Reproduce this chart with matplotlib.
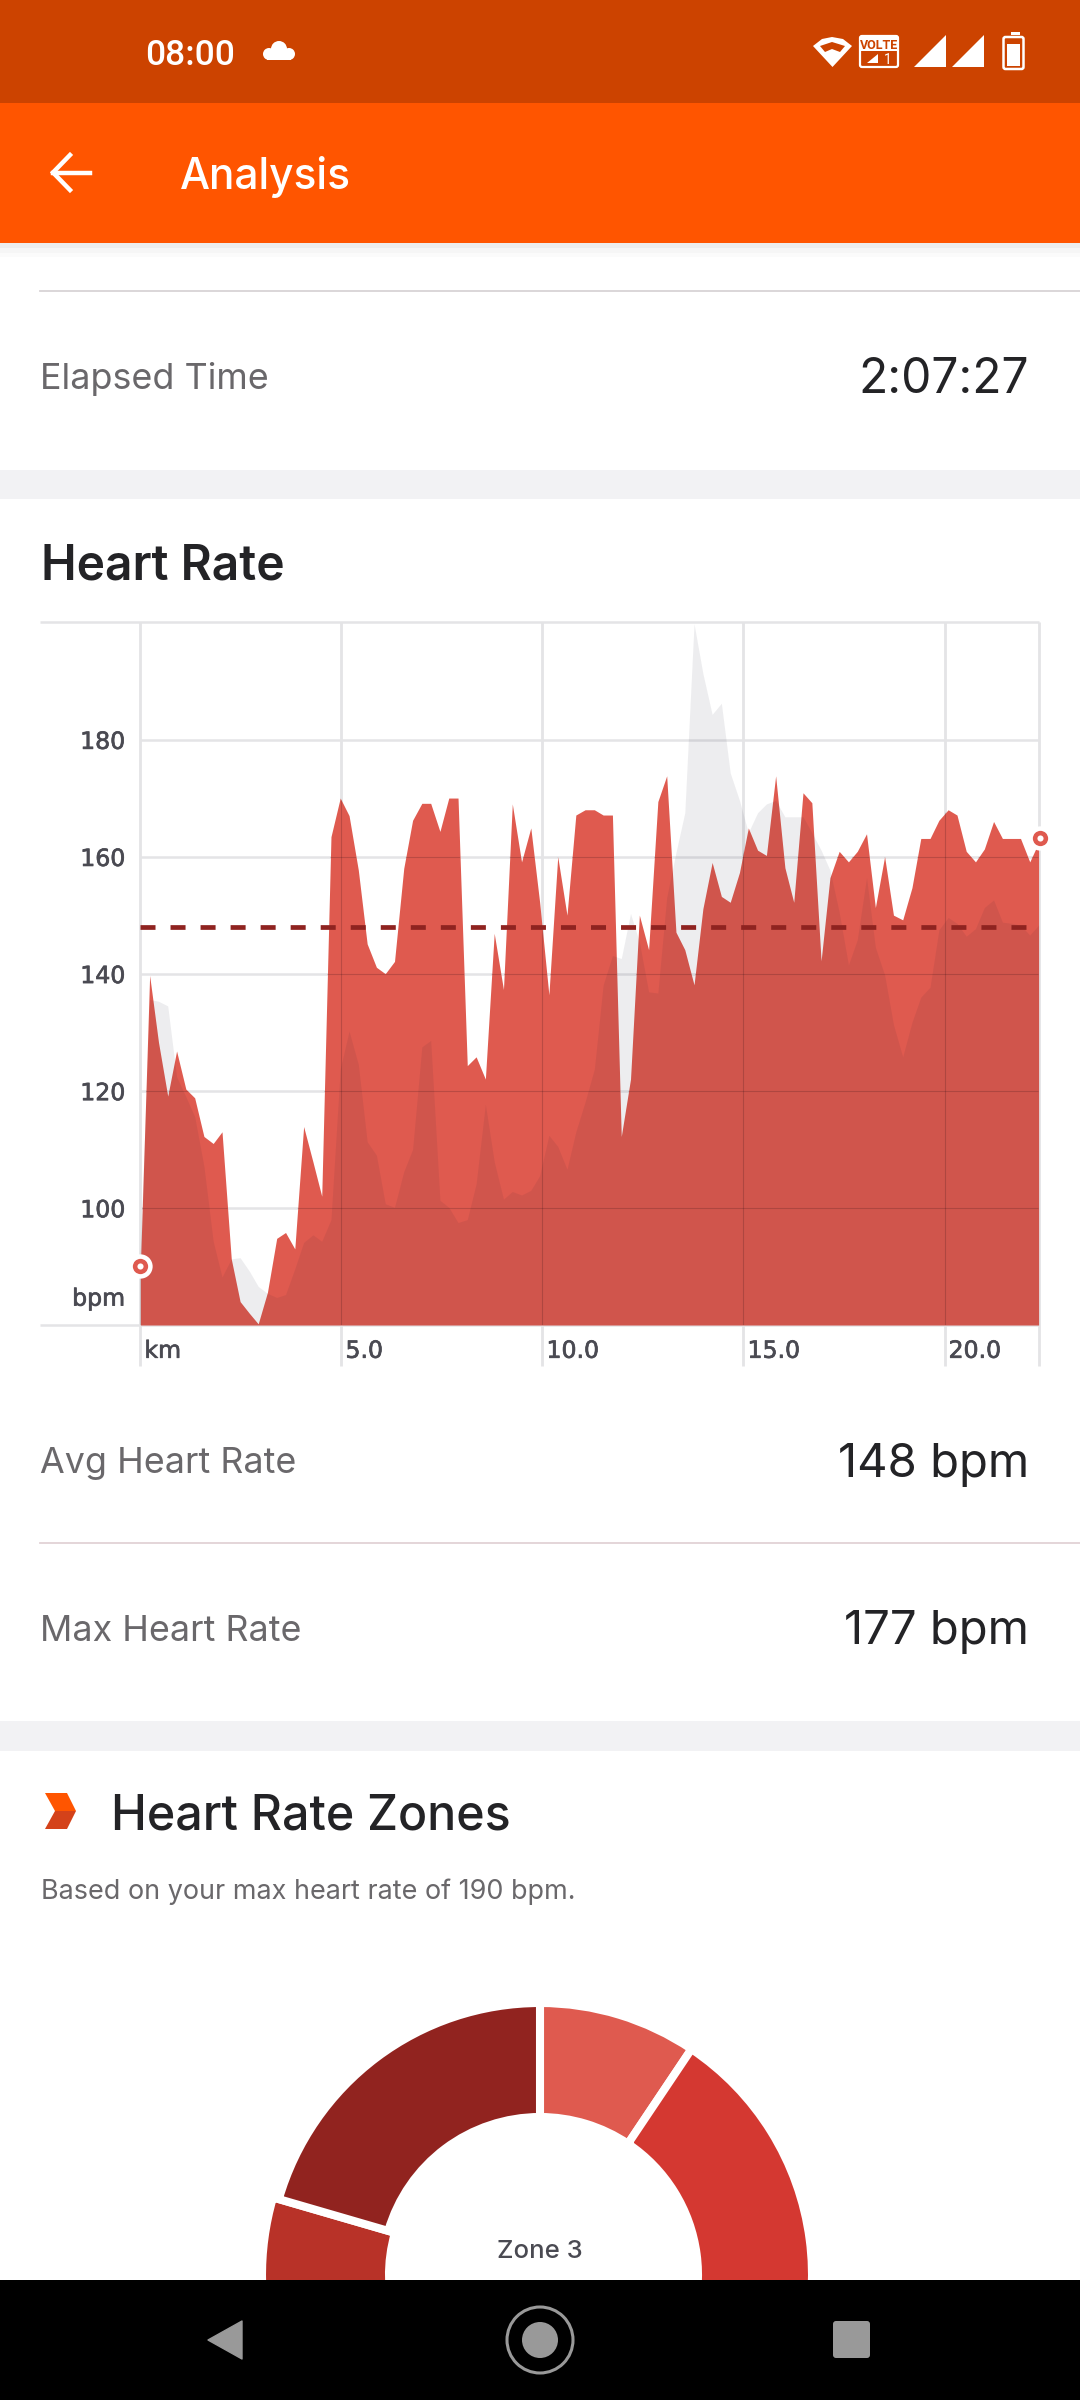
import matplotlib
matplotlib.use("Agg")
import matplotlib.pyplot as plt
import matplotlib.patheffects as pe
from matplotlib.patches import Circle, Polygon, Rectangle, FancyBboxPatch

plt.rcParams["font.family"] = ["Inter", "DejaVu Sans"]

# distance along the run, km
dist_km = [0.00, 0.23, 0.45, 0.68, 0.90, 1.13, 1.35, 1.58, 1.81, 2.03,
           2.26, 2.48, 2.71, 2.93, 3.16, 3.39, 3.61, 3.84, 4.06, 4.29,
           4.51, 4.74, 4.97, 5.19, 5.42, 5.64, 5.87, 6.09, 6.32, 6.55,
           6.77, 7.00, 7.22, 7.45, 7.67, 7.90, 8.13, 8.35, 8.58, 8.80,
           9.03, 9.25, 9.48, 9.71, 9.93, 10.16, 10.38, 10.61, 10.83, 11.06,
           11.29, 11.51, 11.74, 11.96, 12.19, 12.41, 12.64, 12.87, 13.09, 13.32,
           13.54, 13.77, 13.99, 14.22, 14.45, 14.67, 14.90, 15.12, 15.35, 15.57,
           15.80, 16.03, 16.25, 16.48, 16.70, 16.93, 17.15, 17.38, 17.61, 17.83,
           18.06, 18.28, 18.51, 18.73, 18.96, 19.19, 19.41, 19.64, 19.86, 20.09,
           20.31, 20.54, 20.77, 20.99, 21.22, 21.44, 21.67, 21.89, 22.12, 22.34]

heart_rate = [90, 139.7, 128.3, 119.1, 126.8, 120.3, 118.8, 112.2, 111, 113,
              91.3, 84, 82, 80.2, 85.6, 94.8, 95.8, 93, 113.9, 107.9,
              102, 163.4, 170, 167, 157.7, 145.1, 141.1, 140, 142.1, 158,
              166.2, 169.1, 169.1, 164.3, 170, 170, 124.3, 125.8, 122, 146.9,
              137.3, 169, 159.1, 164.9, 152.2, 136.4, 160, 150, 167.1, 168,
              168, 167.1, 167.1, 112.2, 122, 150, 144.1, 169.4, 173.8, 147.1,
              144.1, 138.1, 151.1, 159, 153.2, 152.2, 157.3, 164.9, 161.1, 160.2,
              173.8, 158.1, 152.2, 170.9, 169.2, 142.2, 156.4, 160.9, 159.1, 160.9,
              163.9, 151.3, 160, 150, 149.2, 154.7, 163.1, 163.1, 166.2, 168,
              167.1, 160.9, 159.1, 161.3, 166, 163.1, 163.1, 163.1, 159.1, 162.4]

# grey elevation shape behind the heart rate, read on the bpm scale
elevation = [93.4, 135.6, 135.3, 134.5, 122.4, 119, 115.6, 107.1, 94.3, 88.2,
             91.3, 91.5, 89.2, 86.6, 85.4, 84.7, 85.2, 89.6, 94.1, 95.4,
             94.3, 98, 123.7, 130.2, 124.5, 111.3, 109, 100.7, 100.1, 106.2,
             110, 127.5, 128.6, 101.3, 100.1, 97.5, 98, 104.1, 117.7, 107.9,
             101.5, 102.8, 102.2, 103, 105.5, 112.4, 110.5, 106.6, 113, 118.1,
             123.7, 138.1, 143.1, 142.6, 150.3, 145.4, 136.9, 136.7, 153, 160.7,
             167.5, 199.8, 191.3, 184.3, 186.2, 174.3, 169.6, 164.1, 167.5, 169,
             169.6, 166.8, 166.8, 166.8, 164.1, 161.1, 157.7, 150.5, 141.5, 145.8,
             156.4, 144.5, 139.8, 131.3, 125.8, 131.7, 136, 137.7, 147.5, 149.6,
             148.6, 146.4, 147.7, 151.3, 152.6, 148.8, 148.6, 148.3, 146.6, 148.3]

avg_hr = 148
avg_line_km = [0, 22.05]
y_ticks = [100, 120, 140, 160, 180]
x_ticks = [0, 5, 10, 15, 20]
x_tick_labels = ["km", "5.0", "10.0", "15.0", "20.0"]

# the slices below the fold are estimated, they are hidden by the nav bar
zone_share = [9.4, 27, 24, 19.1, 20.5]
zone_colors = ["#DF5A4F", "#D43831", "#C9362C", "#B83228", "#91231F"]

W, H = 1080, 2400
TEXT_DARK = "#232326"
TEXT_GREY = "#6A686B"
TICK_GREY = "#4A4A52"
GRID = "#E4E4E6"
GRID_OVER = (0.15, 0.05, 0.08, 0.2)

fig = plt.figure(figsize=(W / 100, H / 100), dpi=100, facecolor="white")

# page furniture, in pixels
ui = fig.add_axes([0, 0, 1, 1], zorder=0)
ui.set_xlim(0, W)
ui.set_ylim(H, 0)
ui.axis("off")


def box(x0, y0, x1, y1, color, z=1):
    ui.add_patch(Rectangle((x0, y0), x1 - x0, y1 - y0, fc=color, ec="none", zorder=z))


box(0, 0, W, 103, "#CC4300")
box(0, 103, W, 243, "#FF5500")
box(0, 243, W, 248, "#EDEDED")
box(0, 248, W, 253, "#F6F6F6")
box(0, 253, W, 257, "#FBFBFB")
box(0, 470, W, 499, "#F2F2F4")
box(0, 1721, W, 1751, "#F2F2F4")
ui.plot([40, W], [291, 291], color="#D8D3D6", lw=1.3, zorder=1)
ui.plot([40, W], [1543, 1543], color="#E2D2D6", lw=1.3, zorder=1)

ui.text(145, 65, "08:00", color="white", fontsize=25.5, family="Roboto", weight="medium")
for cx, cy, r in [(279, 49, 8), (269, 54, 6), (289, 54, 6)]:
    ui.add_patch(Circle((cx, cy), r, fc="white", ec="none", zorder=2))
box(267, 52, 291, 60, "white", 2)

# status icons
ui.add_patch(Polygon([(813, 46), (822, 39), (832, 37), (843, 39), (852, 46), (832.5, 67)],
                     closed=True, fc="white", ec="none", zorder=2))
ui.add_patch(Polygon([(820, 46), (832, 42), (845, 46), (840, 52), (832, 49), (825, 52)],
                     closed=True, fc="#CC4300", ec="none", zorder=3))
ui.add_patch(FancyBboxPatch((860, 36), 38, 31, boxstyle="round,pad=0,rounding_size=2",
                            fc="#CC4300", ec="white", lw=1.6, zorder=2))
box(860, 36, 898, 51, "white", 3)
ui.text(879, 49, "VOLTE", color="#CC4300", fontsize=9, weight="bold", ha="center",
        family="Roboto", zorder=4)
ui.add_patch(Polygon([(867, 63), (878, 63), (878, 54)], closed=True, fc="white", ec="none", zorder=3))
ui.text(888, 64, "1", color="white", fontsize=10, ha="center", family="Roboto", zorder=4)
for x0 in [914, 952]:
    ui.add_patch(Polygon([(x0, 67), (x0 + 32, 67), (x0 + 32, 35)], closed=True,
                         fc="white", ec="none", zorder=2))
box(1011, 32, 1020, 34.5, "white", 2)
ui.add_patch(FancyBboxPatch((1003.5, 37), 20, 32, boxstyle="round,pad=0,rounding_size=2",
                            fc="#CC4300", ec="white", lw=1.8, zorder=2))
box(1007, 44, 1020, 66, "white", 3)

# header
ui.plot([70, 53, 70], [155, 172.5, 190], color="white", lw=3.2, zorder=2, solid_joinstyle="miter")
ui.plot([53, 90], [172.5, 172.5], color="white", lw=3.2, zorder=2)
ui.text(180, 189, "Analysis", color="white", fontsize=30.5, weight="medium")

# rows
ui.text(40, 389, "Elapsed Time", color=TEXT_GREY, fontsize=25.8)
ui.text(1029, 393, "2:07:27", color=TEXT_DARK, fontsize=34.5, ha="right")
ui.text(41, 579, "Heart Rate", color=TEXT_DARK, fontsize=34.5, weight="semibold")
ui.text(40, 1473, "Avg Heart Rate", color=TEXT_GREY, fontsize=25.8)
ui.text(1029, 1477, "148 bpm", color=TEXT_DARK, fontsize=34, ha="right")
ui.text(40, 1641, "Max Heart Rate", color=TEXT_GREY, fontsize=25.8)
ui.text(1029, 1644, "177 bpm", color=TEXT_DARK, fontsize=34, ha="right")

ui.add_patch(Polygon([(45, 1793), (67, 1793), (76, 1811), (55, 1811)], closed=True,
                     fc="#FF5500", ec="none", zorder=2))
ui.add_patch(Polygon([(55, 1811), (76, 1811), (67, 1829), (45, 1829)], closed=True,
                     fc="#D4421A", ec="none", zorder=2))
ui.text(111, 1829, "Heart Rate Zones", color=TEXT_DARK, fontsize=34.8, weight="medium")
ui.text(41, 1899, "Based on your max heart rate of 190 bpm.", color=TEXT_GREY, fontsize=19.45)

# heart rate chart
left, right, top, bottom = 140.4, 1038.6, 622.4, 1325
ax = fig.add_axes([left / W, 1 - bottom / H, (right - left) / W, (bottom - top) / H], zorder=1)
ax.patch.set_alpha(0)
ax.set_xlim(0, 22.34)
ax.set_ylim(80, 200)
for s in ax.spines.values():
    s.set_visible(False)
ax.set_xticks([])
ax.set_yticks(y_ticks)
ax.set_yticklabels([])
ax.tick_params(axis="y", length=0)

# light lines under the fill, a thin dark trace of them shows through it
ax.hlines(y_ticks, 0, 22.34, colors=GRID, lw=1.8, zorder=1)
ax.hlines([80, 200], -2.5, 22.34, colors=GRID, lw=1.8, zorder=1, clip_on=False)
ax.vlines(x_ticks + [22.34], 73, 200, colors=GRID, lw=2, zorder=1, clip_on=False)

hr_fill = ax.fill_between(dist_km, 80, heart_rate, color="#DF5A4F", lw=0, zorder=2)
ax.fill_between(dist_km, 80, elevation, color=(0.1, 0.1, 0.2), alpha=0.075, lw=0, zorder=3)

over_h = ax.hlines(y_ticks, 0, 22.34, colors=[GRID_OVER], lw=0.8, zorder=4)
over_v = ax.vlines(x_ticks, 80, 200, colors=[GRID_OVER], lw=0.8, zorder=4)
over_h.set_clip_path(hr_fill.get_paths()[0], ax.transData)
over_v.set_clip_path(hr_fill.get_paths()[0], ax.transData)

ax.plot(avg_line_km, [avg_hr, avg_hr], color="#8F2320", lw=3.4, dashes=(3.18, 3.18),
        dash_capstyle="butt", zorder=5)

for x, y in [(dist_km[0], heart_rate[0]), (dist_km[-1] + 0.03, 163.1)]:
    ax.plot([x], [y], "o", ms=17.5, mfc="white", mec="none", clip_on=False, zorder=6)
    ax.plot([x], [y], "o", ms=11, mfc="#DF5A4F", mec="none", clip_on=False, zorder=7)
    ax.plot([x], [y], "o", ms=4.4, mfc="white", mec="none", clip_on=False, zorder=8)

# the chart labels are in a wide face, DejaVu with a hairline stroke comes nearest
thick = [pe.withStroke(linewidth=0.5, foreground=TICK_GREY)]
lab_style = dict(color=TICK_GREY, fontsize=17, family="DejaVu Sans", path_effects=thick)
for v in y_ticks:
    ax.text(-0.38, v - 0.4, str(v), ha="right", va="center", **lab_style)
ax.text(-0.38, 84.5, "bpm", ha="right", va="center", **lab_style)
for x, lab in zip(x_ticks, x_tick_labels):
    ax.text(x + 0.1, 74.4, lab, ha="left", va="baseline", **lab_style)

# zone donut, cut off by the nav bar
dn = fig.add_axes([240 / W, 1 - 2280 / H, 600 / W, 290 / H], zorder=1)
wedges, _ = dn.pie(zone_share, colors=zone_colors, startangle=90, counterclock=False, radius=272,
                   wedgeprops=dict(width=114, edgecolor="white", linewidth=5.8))
# zone 4 sits thicker than the others in the reference
wedges[3].set_radius(278)
wedges[3].set_width(127)
dn.set_xlim(-300, 300)
dn.set_ylim(-5, 285)
dn.text(0, 23, "Zone 3", color=TICK_GREY, fontsize=18.5, weight="medium", ha="center", va="center")

# nav bar
top_ui = fig.add_axes([0, 0, 1, 1], zorder=3)
top_ui.set_xlim(0, W)
top_ui.set_ylim(H, 0)
top_ui.axis("off")
top_ui.add_patch(Rectangle((0, 2280), W, 120, fc="black", ec="none"))
top_ui.add_patch(Polygon([(208, 2340), (242, 2321), (242, 2359)], closed=True, fc="#999999",
                         ec="#999999", lw=1, joinstyle="round"))
top_ui.add_patch(Circle((540, 2340), 33, fc="none", ec="#999999", lw=2.2))
top_ui.add_patch(Circle((540, 2340), 18, fc="#999999", ec="none"))
top_ui.add_patch(FancyBboxPatch((833, 2321), 37, 37, boxstyle="round,pad=0,rounding_size=3",
                                fc="#999999", ec="none"))

fig.savefig("out.png", dpi=100)
